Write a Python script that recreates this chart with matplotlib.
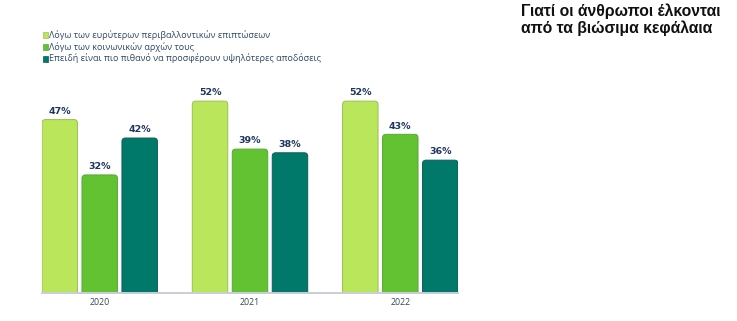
import matplotlib
matplotlib.use("Agg")
import matplotlib.pyplot as plt
from matplotlib.patches import FancyBboxPatch
import numpy as np

years = ["2020", "2021", "2022"]
series_names = [
    "Λόγω των ευρύτερων περιβαλλοντικών επιπτώσεων",
    "Λόγω των κοινωνικών αρχών τους",
    "Επειδή είναι πιο πιθανό να προσφέρουν υψηλότερες αποδόσεις",
]
env_vals = [47, 52, 52]
social_vals = [32, 39, 43]
returns_vals = [42, 38, 36]
series_vals = [env_vals, social_vals, returns_vals]
colors = ["#B9E65A", "#62C232", "#00786A"]
edges = ["#9DBF55", "#58A83A", "#0B5F55"]
title = "Γιατί οι άνθρωποι έλκονται\nαπό τα βιώσιμα κεφάλαια"

W, H = 737, 321
fig = plt.figure(figsize=(W / 100, H / 100), dpi=100)
ax = fig.add_axes([42 / W, 1 - 293 / H, (458 - 42) / W, (293 - 71.6) / H])

step = 0.266
width = 0.236
x = np.arange(len(years))
ax.set_xlim(-step - width / 2, 2 + step + width / 2)
ax.set_ylim(0, 60)

# pixel / data ratio for rounded corners
px_per_x = (458 - 42) / (ax.get_xlim()[1] - ax.get_xlim()[0])
px_per_y = (293 - 71.6) / 60.0

label_color = "#1E3560"
for i, (vals, c, ec) in enumerate(zip(series_vals, colors, edges)):
    bars = ax.bar(x + (i - 1) * step, vals, width, color=c, alpha=0)
    for b, v in zip(bars, vals):
        bx, bw, bh = b.get_x(), b.get_width(), b.get_height()
        p = FancyBboxPatch((bx, -3), bw, bh + 3,
                           boxstyle="round,pad=0,rounding_size=%f" % (3.5 / px_per_x),
                           mutation_aspect=px_per_x / px_per_y,
                           facecolor=c, edgecolor=ec, linewidth=0.7, clip_on=True)
        ax.add_patch(p)
        ax.text(bx + bw / 2, bh + 1.0, f"{v}%", ha="center", va="bottom",
                fontsize=6.8, fontweight="bold", color=label_color,
                family=["DejaVu Sans"])

for s in ["top", "right", "left"]:
    ax.spines[s].set_visible(False)
ax.spines["bottom"].set_color("#C9CED6")
ax.spines["bottom"].set_linewidth(1.4)
ax.set_yticks([])
ax.set_xticks(x)
ax.set_xticklabels(years, fontsize=6.3, color="#34495E", family=["Open Sans", "DejaVu Sans"])
ax.tick_params(axis="x", length=0, pad=3.5)

# legend
legend_y = [35, 47, 58.5]
for name, c, ec, ly in zip(series_names, colors, edges, legend_y):
    fig.patches.append(FancyBboxPatch((42.5 / W, 1 - (ly + 3) / H), 5 / W, 6 / H,
                                      boxstyle="square,pad=0", transform=fig.transFigure,
                                      facecolor=c, edgecolor=ec, linewidth=0.5))
    fig.text(49 / W, 1 - ly / H, name, ha="left", va="center", fontsize=6.45,
             color="#2E4868", family=["Open Sans", "DejaVu Sans"])

fig.text(521 / W, 1 - 3.5 / H, title, ha="left", va="top", fontsize=11.3,
         fontweight="bold", color="#111111", linespacing=1.12,
         family=["Liberation Sans", "DejaVu Sans"])

fig.savefig("out.png", dpi=100)
